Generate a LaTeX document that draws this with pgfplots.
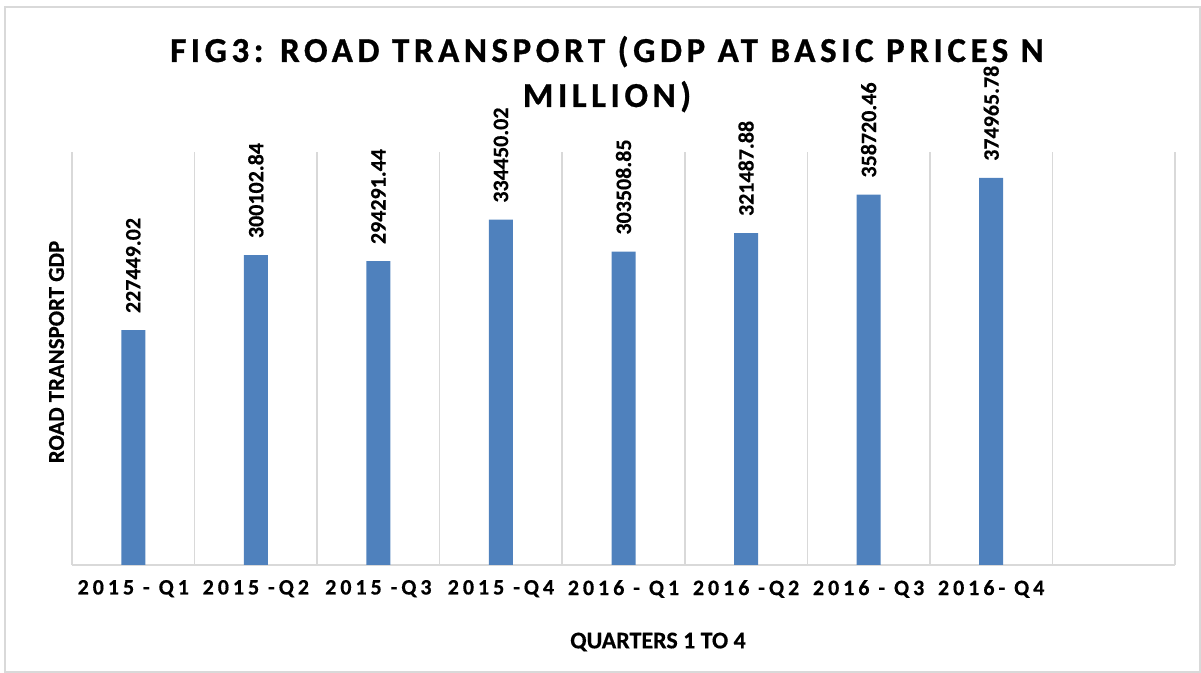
\documentclass[border=0pt]{standalone}
\usepackage{fontspec}
\setmainfont{Carlito}[BoldFont={Carlito Bold}, BoldFeatures={FakeBold=0.4}]
\newfontfamily\tickfont{Carlito}[LetterSpace=18, BoldFont={Carlito Bold}, BoldFeatures={FakeBold=0.5}]
\newfontfamily\titlefont{Carlito}[LetterSpace=13, BoldFont={Carlito Bold}, BoldFeatures={FakeBold=0.8}]
\usepackage{pgfplots}
\pgfplotsset{compat=1.18}
\definecolor{barblue}{HTML}{4F81BD}
\definecolor{gridgray}{HTML}{D9D9D9}
\begin{document}
\begin{tikzpicture}
\useasboundingbox (0,0) rectangle (600.5pt,336.5pt);
\draw[gridgray, line width=0.8pt] (2.5pt,0.5pt) rectangle (600pt,333pt);
\begin{axis}[
  at={(36pt,54pt)}, anchor=south west,
  scale only axis, width=551.5pt, height=206.5pt,
  xmin=-0.5, xmax=8.5, ymin=0, ymax=400000,
  axis line style={draw=none},
  xtick={0,...,7},
  xticklabels={2015 - Q1, 2015 -Q2, 2015 -Q3, 2015 -Q4, 2016 - Q1, 2016 -Q2, 2016 - Q3, 2016- Q4},
  xticklabel style={font=\tickfont\bfseries\fontsize{11}{13}\selectfont, yshift=-4pt},
  major tick length=0pt,
  minor xtick={-0.5,0.5,...,8.5},
  xminorgrids, minor tick length=0pt,
  minor grid style={gridgray, line width=0.8pt},
  ytick=\empty,
  extra y ticks={0}, extra y tick labels={},
  extra y tick style={ymajorgrids, major grid style={gridgray, line width=1pt}},
  /pgf/number format/assume math mode=true,
  /pgf/number format/fixed, /pgf/number format/fixed zerofill,
  /pgf/number format/precision=2, /pgf/number format/1000 sep={},
  ybar, bar width=12pt,
  nodes near coords={\bfseries\fontsize{11}{12}\selectfont\pgfmathprintnumber{\pgfplotspointmeta}},
  nodes near coords style={rotate=90, anchor=west, xshift=5pt},
  clip=false,
]
\addplot[fill=barblue, draw=none] coordinates {
(0,227449.02) (1,300102.84) (2,294291.44) (3,334450.02)
(4,303508.85) (5,321487.88) (6,358720.46) (7,374965.78)};
\end{axis}
\node[anchor=base, font=\titlefont\bfseries\fontsize{17.5}{20}\selectfont] at (303.5pt,305.5pt) {FIG3: ROAD TRANSPORT (GDP AT BASIC PRICES N};
\node[anchor=base, font=\titlefont\bfseries\fontsize{17.5}{20}\selectfont] at (303.5pt,283pt) {MILLION)};
\node[rotate=90, font=\bfseries\fontsize{11.4}{14}\selectfont] at (28.25pt,160.5pt) {ROAD TRANSPORT GDP};
\node[font=\bfseries\fontsize{12}{14}\selectfont] at (329pt,15.5pt) {QUARTERS 1 TO 4};
\end{tikzpicture}
\end{document}
